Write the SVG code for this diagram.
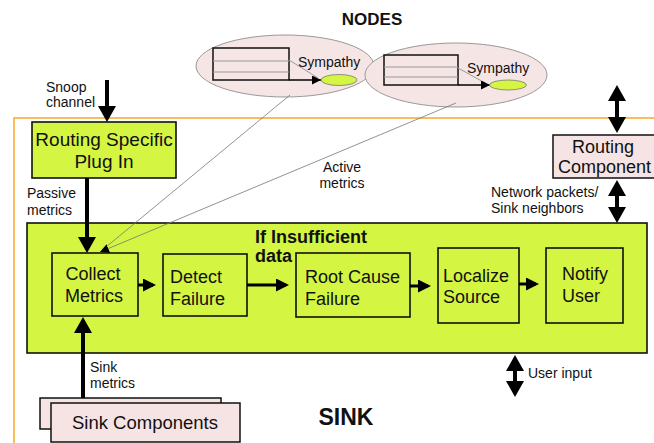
<svg xmlns="http://www.w3.org/2000/svg" width="654" height="443" viewBox="0 0 654 443">
<defs>
<style>
.t{font-family:"Liberation Sans",Arial,sans-serif;fill:#111}
.s{font-size:14px}
.m{font-size:18px}
.b{font-weight:bold}
.g{fill:#d4f542;stroke:#111;stroke-width:1.6}
.p{fill:#f6e4e4;stroke:#111;stroke-width:1.5}
.el{fill:#f6e5e5;stroke:#999;stroke-width:1}
.tb{fill:none;stroke:#111;stroke-width:1.5}
.tl{stroke:#999;stroke-width:1}
.thick{stroke:#000;stroke-width:4;fill:none}
.flow{stroke:#000;stroke-width:3;fill:none}
.thin{stroke:#777;stroke-width:0.8;fill:none}
</style>
<marker id="ahL" markerUnits="userSpaceOnUse" markerWidth="16" markerHeight="18" viewBox="0 0 16 18" refX="12" refY="9" orient="auto-start-reverse"><path d="M0,0 L16,9 L0,18 Z" fill="#000"/></marker>
<marker id="ahM" markerUnits="userSpaceOnUse" markerWidth="13" markerHeight="13" viewBox="0 0 13 13" refX="10" refY="6.5" orient="auto"><path d="M0,0 L13,6.5 L0,13 Z" fill="#000"/></marker>
<marker id="ahS" markerUnits="userSpaceOnUse" markerWidth="9" markerHeight="9" viewBox="0 0 9 9" refX="9" refY="4.5" orient="auto"><path d="M0,0 L9,4.5 L0,9 Z" fill="#000"/></marker>
</defs>
<rect width="654" height="443" fill="#fff"/>

<!-- sink boundary -->
<path d="M14,443 V118 H654" fill="none" stroke="#f7a828" stroke-width="1.5"/>

<text class="t b" x="372" y="25" font-size="17" text-anchor="middle">NODES</text>

<g id="node1">
<ellipse class="el" cx="285" cy="66" rx="89" ry="31"/>
<rect class="tb" x="213" y="48" width="76" height="32"/>
<line class="tl" x1="213" y1="61" x2="289" y2="61"/>
<line class="tl" x1="213" y1="72" x2="289" y2="72"/>
<line class="tl" x1="289" y1="60" x2="318" y2="78"/>
<line x1="289" y1="80" x2="321" y2="80" stroke="#000" stroke-width="1.5" marker-end="url(#ahS)"/>
<ellipse cx="339" cy="80" rx="18" ry="5.5" fill="#d4f542" stroke="#777" stroke-width="0.8"/>
<text class="t s" x="298" y="67">Sympathy</text>
</g>

<g id="node2">
<ellipse class="el" cx="456" cy="75" rx="91" ry="32"/>
<rect class="tb" x="384" y="55" width="74" height="30"/>
<line class="tl" x1="384" y1="67" x2="458" y2="67"/>
<line class="tl" x1="384" y1="77" x2="458" y2="77"/>
<line class="tl" x1="458" y1="68" x2="487" y2="84"/>
<line x1="458" y1="85" x2="490" y2="85" stroke="#000" stroke-width="1.5" marker-end="url(#ahS)"/>
<ellipse cx="508" cy="85" rx="18.5" ry="5" fill="#d4f542" stroke="#777" stroke-width="0.8"/>
<text class="t s" x="467" y="73">Sympathy</text>
</g>

<g id="routing-plugin">
<rect class="g" x="32" y="122" width="144" height="56"/>
<text class="t" font-size="19" x="104" y="146" text-anchor="middle">Routing Specific</text>
<text class="t" font-size="19" x="104" y="168" text-anchor="middle">Plug In</text>
</g>

<g id="routing-component">
<rect class="p" x="553" y="135" width="110" height="43"/>
<text class="t m" x="603" y="153" text-anchor="middle">Routing</text>
<text class="t m" x="558" y="173">Component</text>
</g>

<g id="sink-box">
<rect class="g" x="27" y="223" width="620" height="130"/>
<text class="t m b" x="255" y="243">If Insufficient</text>
<text class="t m b" x="255" y="262">data</text>
</g>

<g id="collect">
<rect class="g" x="52" y="253" width="86" height="63"/>
<text class="t m" x="93" y="280" text-anchor="middle">Collect</text>
<text class="t m" x="94" y="302" text-anchor="middle">Metrics</text>
</g>
<g id="detect">
<rect class="g" x="163" y="254" width="84" height="62"/>
<text class="t m" x="170" y="283">Detect</text>
<text class="t m" x="170" y="305">Failure</text>
</g>
<g id="root">
<rect class="g" x="296" y="253" width="114" height="64"/>
<text class="t m" x="305" y="283">Root Cause</text>
<text class="t m" x="305" y="305">Failure</text>
</g>
<g id="localize">
<rect class="g" x="438" y="248" width="81" height="75"/>
<text class="t m" x="443" y="282">Localize</text>
<text class="t m" x="443" y="303">Source</text>
</g>
<g id="notify">
<rect class="g" x="546" y="248" width="77" height="75"/>
<text class="t m" x="562" y="280">Notify</text>
<text class="t m" x="562" y="302">User</text>
</g>

<g id="sink-components">
<rect class="p" x="40" y="398" width="181" height="31"/>
<rect class="p" x="51" y="403" width="189" height="39"/>
<text class="t" font-size="18.5" x="145" y="429" text-anchor="middle">Sink Components</text>
</g>

<text class="t b" x="346" y="425" font-size="23" text-anchor="middle">SINK</text>

<g id="connectors">
<line class="thick" x1="107" y1="80" x2="107" y2="118" marker-end="url(#ahL)"/>
<line class="thick" x1="87" y1="178" x2="87" y2="249" marker-end="url(#ahL)"/>
<line class="thick" x1="83" y1="398" x2="83" y2="321" marker-end="url(#ahL)"/>
<line class="thick" x1="617" y1="89" x2="617" y2="129" marker-start="url(#ahL)" marker-end="url(#ahL)"/>
<line class="thick" x1="617" y1="184" x2="617" y2="219" marker-start="url(#ahL)" marker-end="url(#ahL)"/>
<line class="thick" x1="515" y1="359" x2="515" y2="393" stroke-width="3" marker-start="url(#ahL)" marker-end="url(#ahL)"/>
<line class="flow" x1="138" y1="285" x2="153" y2="285" marker-end="url(#ahM)"/>
<line class="flow" x1="247" y1="285" x2="286" y2="285" marker-end="url(#ahM)"/>
<line class="flow" x1="410" y1="286" x2="428" y2="286" marker-end="url(#ahM)"/>
<line class="flow" x1="519" y1="284" x2="536" y2="284" marker-end="url(#ahM)"/>
<line class="thin" x1="290" y1="95" x2="100" y2="252"/>
<line class="thin" x1="456" y1="103" x2="100" y2="252" marker-end="url(#ahS)"/>
</g>

<g id="labels">
<text class="t s" x="46" y="92">Snoop</text>
<text class="t s" x="46" y="107">channel</text>
<text class="t s" x="27" y="198">Passive</text>
<text class="t s" x="27" y="215">metrics</text>
<text class="t s" x="342" y="172" text-anchor="middle">Active</text>
<text class="t s" x="342" y="188" text-anchor="middle">metrics</text>
<text class="t s" x="491" y="197">Network packets/</text>
<text class="t s" x="491" y="213">Sink neighbors</text>
<text class="t s" x="90" y="372">Sink</text>
<text class="t s" x="90" y="388">metrics</text>
<text class="t s" x="528" y="378">User input</text>
</g>
</svg>
